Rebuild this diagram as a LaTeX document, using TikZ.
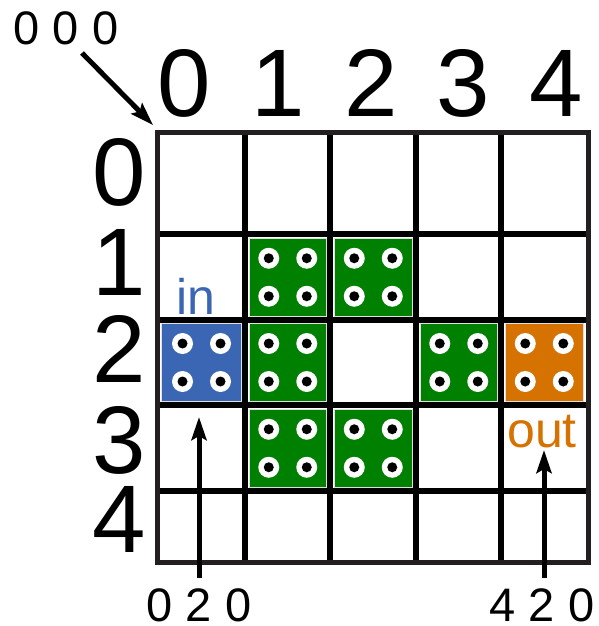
\documentclass[tikz,border=0pt]{standalone}
\usepackage{fontspec}
\setmainfont{Liberation Sans}
\usetikzlibrary{arrows.meta}
\definecolor{cgreen}{RGB}{0,128,0}
\definecolor{cblue}{RGB}{59,102,180}
\definecolor{corange}{RGB}{214,114,0}
\definecolor{cframe}{RGB}{35,31,32}
\newcommand\padcell[5]{%
  \filldraw[fill=#5, draw=gray!25, line width=1pt] ({#1},{#2}) rectangle ({#3},{#4});
  \foreach \dx in {-19,19} {\foreach \dy in {-19,19} {
    \fill[white] ({(#1+#3)/2+\dx},{(#2+#4)/2+\dy}) circle[radius=10.5pt];
    \fill[black] ({(#1+#3)/2+\dx},{(#2+#4)/2+\dy}) circle[radius=5pt];
  }}}
\begin{document}
\begin{tikzpicture}[x=1pt,y=-1pt,
  gridline/.style={line width=5.5pt,black},
  frame/.style={line width=5pt,cframe},
  bigl/.style={font=\fontsize{96}{96}\selectfont,inner sep=0pt,anchor=base},
  smalll/.style={font=\fontsize{47}{47}\selectfont,inner sep=0pt,anchor=base},
  tagl/.style={font=\fontsize{50}{50}\selectfont,inner sep=0pt,anchor=base},
  arr/.style={line width=5pt,-{Stealth[length=23pt,width=15pt,inset=4pt]}}]
\useasboundingbox (0,0) rectangle (598,626);
% grid lines
\foreach \x in {245,330,416,501} \draw[gridline] (\x,132) -- (\x,562);
\foreach \y in {234,320,405,491} \draw[gridline] (157,\y) -- (588,\y);
\draw[frame] (157,132) rectangle (588,562);
% pads
\padcell{249}{238}{326.5}{316.5}{cgreen}
\padcell{334}{238}{412.5}{316.5}{cgreen}
\padcell{161.5}{323.5}{241.5}{401.5}{cblue}
\padcell{249}{323.5}{326.5}{401.5}{cgreen}
\padcell{420}{323.5}{497.5}{401.5}{cgreen}
\padcell{505}{323.5}{583.5}{401.5}{corange}
\padcell{249}{409}{326.5}{487.5}{cgreen}
\padcell{334}{409}{412.5}{487.5}{cgreen}
% column labels
\node[bigl] (c0) at (184,116) {0};
\node[bigl] (c1) at (278,116) {1};
\node[bigl] (c2) at (371,116) {2};
\node[bigl] (c3) at (463,116) {3};
\node[bigl] (c4) at (556,116) {4};
% row labels
\node[bigl] (r0) at (119,205) {0};
\node[bigl] (r1) at (119,295) {1};
\node[bigl] (r2) at (119,382) {2};
\node[bigl] (r3) at (119,473) {3};
\node[bigl] (r4) at (119,552) {4};
% coordinate labels
\node[smalll] (l000) at (66,45) {0 0 0};
\node[smalll] (l020) at (199,621) {0 2 0};
\node[smalll] (l420) at (542,621) {4 2 0};
\node[tagl,text=cblue] (tin) at (196,314) {in};
\node[tagl,text=corange] (tout) at (542,447) {out};
% arrows
\coordinate (s000) at (82,53);
\coordinate (corner) at (153,125);
\coordinate (s020) at (199,578);
\coordinate (t020) at (199,417);
\coordinate (s420) at (544,578);
\coordinate (t420) at (544,450);
\draw[arr] (s000) -- (corner);
\draw[arr] (s020) -- (t020);
\draw[arr] (s420) -- (t420);
\end{tikzpicture}
\end{document}
